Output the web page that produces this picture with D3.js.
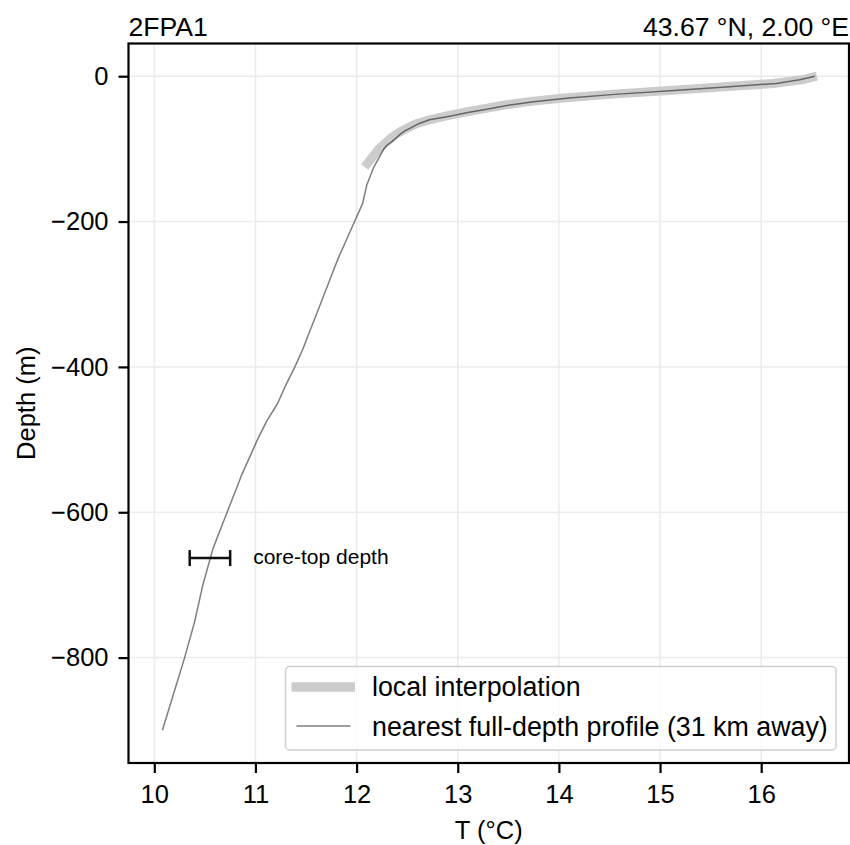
<!DOCTYPE html>
<html>
<head>
<meta charset="utf-8">
<script src="https://cdn.jsdelivr.net/npm/d3@7"></script>
<style>
  body { margin: 0; background: #fff; }
  text { font-family: "Liberation Sans", Arial, Helvetica, sans-serif; fill: #000; }
</style>
</head>
<body>
<svg id="chart" width="850" height="845"></svg>
<script>
// nearest full-depth profile
const profileDepth = [0, -5, -10, -15, -20, -25, -30, -35, -40, -45, -50, -55, -60, -65, -70, -75, -80, -85, -90, -95, -100,
  -125, -150, -175, -200, -225, -250, -275, -300, -325, -350, -375, -400, -425, -450, -475, -500,
  -550, -600, -650, -700, -750, -800, -850, -900];
const profileT = [16.53, 16.38, 16.15, 15.65, 15.1, 14.55, 14.1, 13.75, 13.5, 13.3, 13.1, 12.92, 12.72, 12.62, 12.55, 12.48, 12.43, 12.39, 12.35, 12.3, 12.27,
  12.17, 12.1, 12.06, 11.98, 11.9, 11.82, 11.75, 11.68, 11.61, 11.54, 11.47, 11.39, 11.3, 11.22, 11.11, 11.02,
  10.86, 10.72, 10.58, 10.48, 10.4, 10.3, 10.19, 10.08];

// local interpolation (upper water column only)
const localDepth = [0, -5, -10, -15, -20, -25, -30, -35, -40, -45, -50, -55, -60, -65, -70, -75, -80, -85, -90, -95, -100, -125];
const localT = [16.55, 16.4, 16.12, 15.6, 15.05, 14.5, 14.05, 13.7, 13.45, 13.25, 13.05, 12.88, 12.72, 12.6, 12.52, 12.45, 12.39, 12.34, 12.3, 12.26, 12.22, 12.08];

// core-top depth marker
const coreTopDepth = -663;
const coreTopRange = [10.35, 10.75];

const xTicks = [10, 11, 12, 13, 14, 15, 16];
const yTicks = [0, -200, -400, -600, -800];

const titleLeft = "2FPA1";
const titleRight = "43.67 °N, 2.00 °E";
const legendLabels = ["local interpolation", "nearest full-depth profile (31 km away)"];

const svg = d3.select("#chart");
const plot = {left: 128.5, right: 849, top: 43.5, bottom: 763};
const fs = 25.5;

const x = d3.scaleLinear().domain([9.745, 16.868]).range([plot.left, plot.right]);
const y = d3.scaleLinear().domain([-945, 45]).range([plot.bottom, plot.top]);

// grid
const grid = svg.append("g");
grid.selectAll(".gx").data(xTicks).enter().append("line")
  .attr("x1", d => x(d)).attr("x2", d => x(d))
  .attr("y1", plot.top).attr("y2", plot.bottom)
  .attr("stroke", "#ebebeb").attr("stroke-width", 1.5);
grid.selectAll(".gy").data(yTicks).enter().append("line")
  .attr("y1", d => y(d)).attr("y2", d => y(d))
  .attr("x1", plot.left).attr("x2", plot.right)
  .attr("stroke", "#ebebeb").attr("stroke-width", 1.5);

const line = d3.line().x(d => x(d[0])).y(d => y(d[1]));

// local interpolation: thick light band
svg.append("path")
  .datum(d3.zip(localT, localDepth))
  .attr("d", line)
  .attr("fill", "none")
  .attr("stroke", "#cccccc")
  .attr("stroke-width", 9)
  .attr("stroke-linejoin", "round");

// full-depth profile: thin, half-transparent black
svg.append("path")
  .datum(d3.zip(profileT, profileDepth))
  .attr("d", line)
  .attr("fill", "none")
  .attr("stroke", "#000")
  .attr("stroke-opacity", 0.5)
  .attr("stroke-width", 1.5)
  .attr("stroke-linejoin", "round");

// core-top error bar
const eb = svg.append("g").attr("stroke", "#111").attr("stroke-width", 2.5);
eb.append("line")
  .attr("x1", x(coreTopRange[0])).attr("x2", x(coreTopRange[1]))
  .attr("y1", y(coreTopDepth)).attr("y2", y(coreTopDepth));
eb.selectAll(".cap").data(coreTopRange).enter().append("line")
  .attr("x1", d => x(d)).attr("x2", d => x(d))
  .attr("y1", y(coreTopDepth) - 8).attr("y2", y(coreTopDepth) + 8);
svg.append("text")
  .attr("x", x(coreTopRange[1]) + 23)
  .attr("y", y(coreTopDepth))
  .attr("dy", "0.27em")
  .attr("font-size", 21)
  .text("core-top depth");

// axes
const xAxis = svg.append("g")
  .attr("transform", `translate(0,${plot.bottom})`)
  .call(d3.axisBottom(x).tickValues(xTicks).tickSize(10).tickPadding(12).tickFormat(d3.format("d")));
const yAxis = svg.append("g")
  .attr("transform", `translate(${plot.left},0)`)
  .call(d3.axisLeft(y).tickValues(yTicks).tickSize(10).tickPadding(10).tickFormat(d3.format("d")));
[xAxis, yAxis].forEach(a => {
  a.select(".domain").remove();
  a.selectAll(".tick line").attr("stroke", "#000").attr("stroke-width", 2.2);
  a.selectAll(".tick text").attr("font-size", fs).attr("fill", "#000")
    .style("font-family", '"Liberation Sans", Arial, sans-serif');
});

// frame
svg.append("rect")
  .attr("x", plot.left).attr("y", plot.top)
  .attr("width", plot.right - plot.left).attr("height", plot.bottom - plot.top)
  .attr("fill", "none").attr("stroke", "#000").attr("stroke-width", 2.2);

// axis labels
svg.append("text")
  .attr("x", (plot.left + plot.right) / 2).attr("y", 839)
  .attr("text-anchor", "middle").attr("font-size", fs)
  .text("T (°C)");
svg.append("text")
  .attr("transform", `translate(35,${(plot.top + plot.bottom) / 2}) rotate(-90)`)
  .attr("text-anchor", "middle").attr("font-size", fs)
  .text("Depth (m)");

// titles
svg.append("text").attr("x", plot.left).attr("y", 36)
  .attr("font-size", 26.6).text(titleLeft);
svg.append("text").attr("x", plot.right).attr("y", 36)
  .attr("text-anchor", "end").attr("font-size", 26.6).text(titleRight);

// legend
const lg = svg.append("g");
lg.append("rect")
  .attr("x", 285.5).attr("y", 666.5).attr("width", 550.5).attr("height", 83.5)
  .attr("rx", 4).attr("fill", "#fff").attr("fill-opacity", 0.8)
  .attr("stroke", "#d0d0d0").attr("stroke-width", 1.5);
lg.append("line").attr("x1", 291.5).attr("x2", 355).attr("y1", 687).attr("y2", 687)
  .attr("stroke", "#cccccc").attr("stroke-width", 9.5);
lg.append("line").attr("x1", 296.5).attr("x2", 350.5).attr("y1", 726).attr("y2", 726)
  .attr("stroke", "#000").attr("stroke-opacity", 0.5).attr("stroke-width", 1.5);
lg.selectAll(".lt").data(legendLabels).enter().append("text")
  .attr("x", 372).attr("y", (d, i) => 687 + i * 40).attr("dy", "0.35em")
  .attr("font-size", 26.8).text(d => d);
</script>
</body>
</html>
